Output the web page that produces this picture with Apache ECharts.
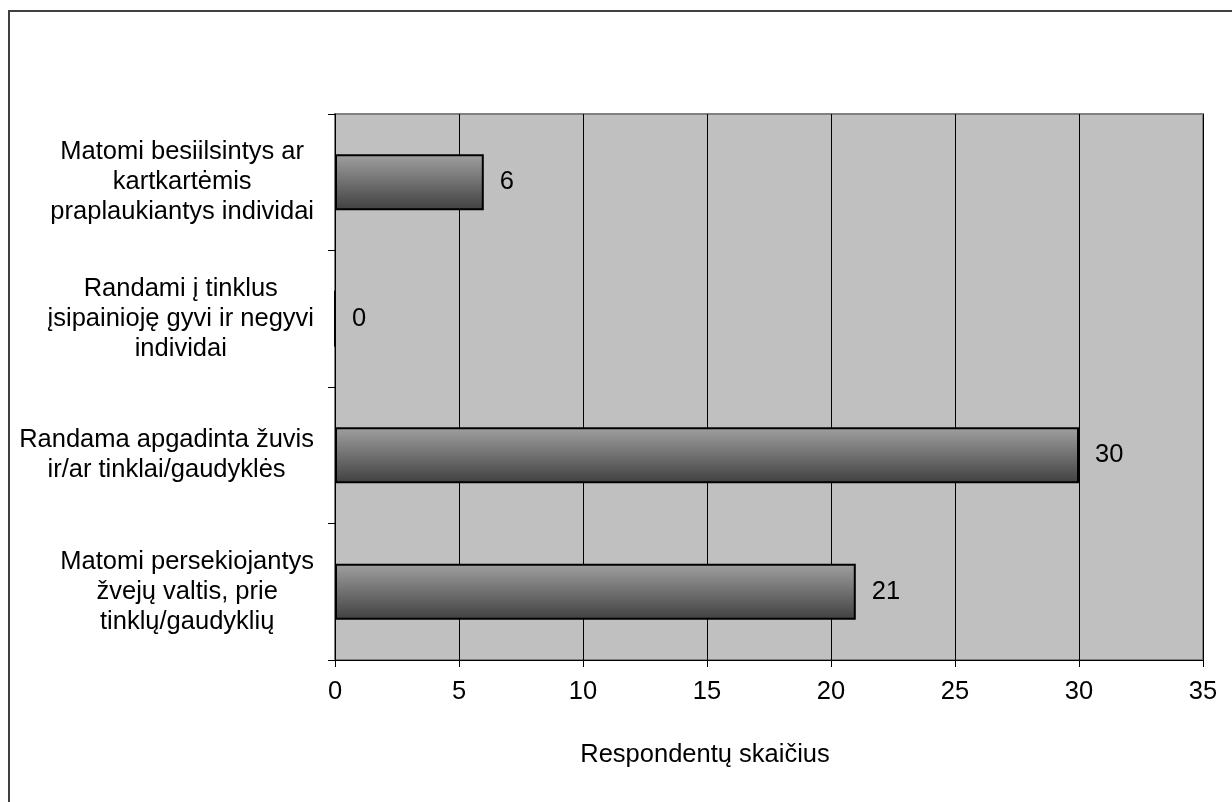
<!DOCTYPE html>
<html>
<head>
<meta charset="utf-8">
<script src="https://cdn.jsdelivr.net/npm/echarts@6/dist/echarts.min.js"></script>
<style>
html,body{margin:0;padding:0;background:#fff;}
#chart{width:1232px;height:802px;}
</style>
</head>
<body>
<div id="chart"></div>
<script>
const categories = [
  "Matomi besiilsintys ar\nkartkartėmis\npraplaukiantys individai",
  "Randami į tinklus\nįsipainioję gyvi ir negyvi\nindividai",
  "Randama apgadinta žuvis\nir/ar tinklai/gaudyklės",
  "Matomi persekiojantys\nžvejų valtis, prie\ntinklų/gaudyklių"
];
const values = [6, 0, 30, 21];
const axisName = "Respondentų skaičius";
const xMin = 0, xMax = 35, xStep = 5;

const FONT = "'Liberation Sans', Arial, sans-serif";
const FS = 25.5;
const chart = echarts.init(document.getElementById('chart'), null, {renderer: 'canvas'});
chart.setOption({
  backgroundColor: '#ffffff',
  animation: false,
  graphic: [{
    type: 'rect',
    shape: {x: 9, y: 11, width: 1400, height: 1000},
    style: {fill: 'none', stroke: '#404040', lineWidth: 2},
    silent: true, z: -1
  }],
  grid: {
    left: 335, right: 29, top: 114, bottom: 142,
    show: true, backgroundColor: '#c0c0c0', borderColor: '#808080', borderWidth: 2
  },
  xAxis: {
    type: 'value', min: xMin, max: xMax, interval: xStep,
    axisLine: {show: true, lineStyle: {color: '#000', width: 1}},
    axisTick: {show: true, length: 7, lineStyle: {color: '#000'}},
    splitLine: {show: true, lineStyle: {color: '#000', width: 1}},
    axisLabel: {color: '#000', fontSize: FS, fontFamily: FONT, margin: 19},
    name: axisName, nameLocation: 'middle', nameGap: 82,
    nameTextStyle: {color: '#000', fontSize: FS, fontFamily: FONT, padding: [0, 128, 0, 0]}
  },
  yAxis: {
    type: 'category', data: categories, inverse: true,
    axisLine: {show: true, lineStyle: {color: '#000', width: 1}},
    axisTick: {show: true, length: 7, lineStyle: {color: '#000'}},
    splitLine: {show: false},
    axisLabel: {
      color: '#000', fontSize: FS, fontFamily: FONT, margin: 21, align: 'right',
      lineHeight: 30,
      formatter: function (v) {
        return v.split('\n').map(function (l) { return '{c|' + l + '}'; }).join('\n');
      },
      rich: {c: {align: 'center', fontSize: FS, fontFamily: FONT, color: '#000', lineHeight: 30}}
    }
  },
  series: [{
    type: 'bar', data: values, barWidth: 56,
    itemStyle: {
      color: new echarts.graphic.LinearGradient(0, 0, 0, 1, [
        {offset: 0, color: '#a0a0a0'},
        {offset: 1, color: '#404040'}
      ]),
      borderColor: '#000', borderWidth: 2
    },
    label: {show: true, position: 'right', distance: 16, color: '#000', fontSize: FS, fontFamily: FONT}
  }]
});
</script>
</body>
</html>
